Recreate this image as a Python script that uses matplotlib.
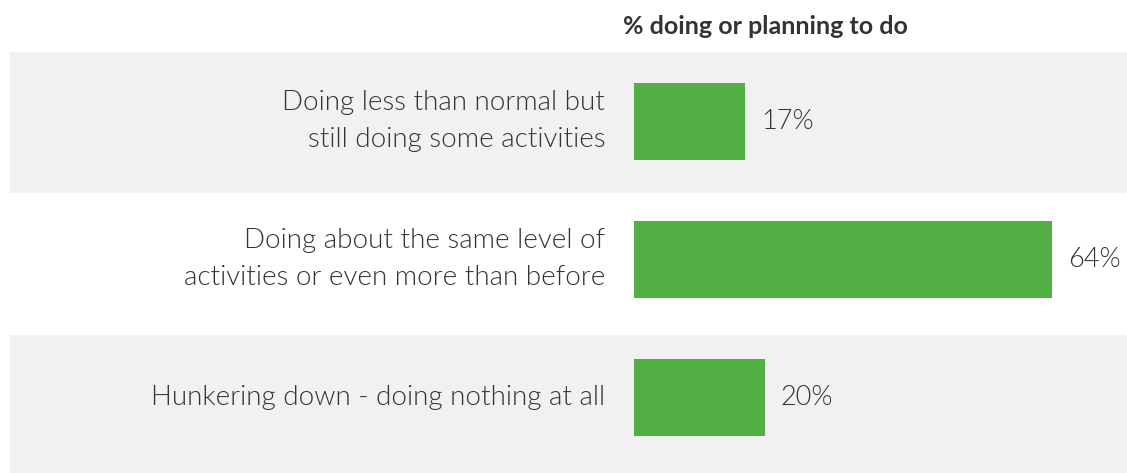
import matplotlib
matplotlib.use("Agg")
import matplotlib.pyplot as plt

categories = [
    "Doing less than normal but\nstill doing some activities",
    "Doing about the same level of\nactivities or even more than before",
    "Hunkering down - doing nothing at all",
]
values = [17, 64, 20]
value_labels = ["17%", "64%", "20%"]
title = "% doing or planning to do"

green = "#52af43"
band = "#f1f1f1"
txt = "#333333"

plt.rcParams['font.family'] = ['Lato', 'DejaVu Sans']

fig = plt.figure(figsize=(11.27, 4.73), dpi=100)
ax = fig.add_axes([0, 0, 1, 1])
ax.set_xlim(-97.1, 75.5)
ax.set_ylim(2.547, -0.880)
ax.axis('off')

# grey bands behind rows 1 and 3
ax.axhspan(-0.504, 0.518, xmin=10 / 1127, xmax=1, color=band, zorder=0, lw=0)
ax.axhspan(1.547, 2.6, xmin=10 / 1127, xmax=1, color=band, zorder=0, lw=0)

ax.barh(range(len(values)), values, height=0.558, color=green, zorder=2)

for i, (cat, v, lab) in enumerate(zip(categories, values, value_labels)):
    ax.text(-4.4, i, cat, ha='right', va='center', fontsize=20, fontweight=300,
            color=txt, linespacing=1.6)
    ax.text(v + 2.5, i, lab, ha='left', va='center', fontsize=19.5, fontweight=300,
            color=txt)

ax.text(20.1, -0.685, title, ha='center', va='center', fontsize=18, fontweight='bold',
        color="#333333")

fig.savefig("out.png", dpi=100)
